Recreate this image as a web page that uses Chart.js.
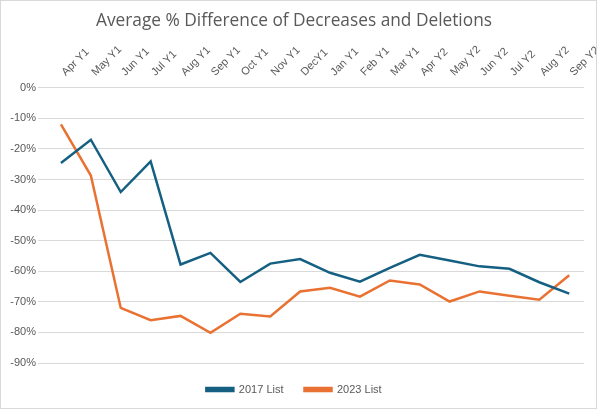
<!DOCTYPE html>
<html>
<head>
<meta charset="utf-8">
<script src="https://cdn.jsdelivr.net/npm/chart.js@4"></script>
<style>
  body { margin: 0; background: #fff; }
  #wrap { position: absolute; left: 0; top: 0; width: 595px; height: 407px; border: 1px solid #d9d9d9; }
</style>
</head>
<body>
<div id="wrap"><canvas id="chart" width="595" height="407"></canvas></div>
<script>
var months = ['Apr Y1', 'May Y1', 'Jun Y1', 'Jul Y1', 'Aug Y1', 'Sep Y1', 'Oct Y1', 'Nov Y1', 'DecY1',
  'Jan Y1', 'Feb Y1', 'Mar Y1', 'Apr Y2', 'May Y2', 'Jun Y2', 'Jul Y2', 'Aug Y2', 'Sep Y2'];
var list2017 = [-24.6, -17.0, -34.1, -24.1, -57.8, -54.0, -63.5, -57.5, -56.0,
  -60.5, -63.4, -58.9, -54.6, -56.5, -58.4, -59.2, -63.6, -67.3];
var list2023 = [-12.0, -28.7, -72.0, -76.0, -74.6, -80.1, -73.9, -74.8, -66.6,
  -65.4, -68.3, -63.0, -64.3, -69.9, -66.6, -68.0, -69.3, -61.3];
var yTicks = [0, -10, -20, -30, -40, -50, -60, -70, -80, -90];

var grey = '#595959';
var font = "'Liberation Sans', Arial, sans-serif";
Chart.defaults.font.family = font;
Chart.defaults.color = grey;

var ctx = document.getElementById('chart');
new Chart(ctx, {
  type: 'line',
  data: {
    labels: months,
    datasets: [
      { label: '2017 List', data: list2017, borderColor: '#156082', backgroundColor: '#156082',
        borderWidth: 2.5, pointRadius: 0, tension: 0 },
      { label: '2023 List', data: list2023, borderColor: '#E97132', backgroundColor: '#E97132',
        borderWidth: 2.5, pointRadius: 0, tension: 0 }
    ]
  },
  options: {
    responsive: false,
    animation: false,
    layout: { padding: { left: 0, right: 9, bottom: 3 } },
    plugins: {
      title: {
        display: true,
        text: 'Average % Difference of Decreases and Deletions',
        color: grey,
        font: { size: 17.3, weight: 'normal', family: "'Open Sans', sans-serif" },
        padding: { top: 10, bottom: 0 }
      },
      legend: {
        position: 'bottom',
        labels: { boxWidth: 27, boxHeight: 3, font: { size: 11 }, color: grey, padding: 21 }
      },
      tooltip: { enabled: false }
    },
    scales: {
      x: {
        position: 'top',
        offset: true,
        grid: { display: false },
        border: { display: false },
        ticks: { minRotation: 45, maxRotation: 45, font: { size: 11 }, color: grey, padding: 1,
          labelOffset: 12, autoSkip: false },
        afterFit: function (s) { s.height = 56; }
      },
      y: {
        min: -90, max: 0,
        afterBuildTicks: function (s) { s.ticks = yTicks.map(function (v) { return { value: v }; }); },
        grid: { color: '#d9d9d9' },
        border: { display: false },
        ticks: { font: { size: 11 }, color: grey, padding: 2, callback: function (v) { return v + '%'; } },
        afterFit: function (s) { s.width = 45; }
      }
    }
  }
});
</script>
</body>
</html>
